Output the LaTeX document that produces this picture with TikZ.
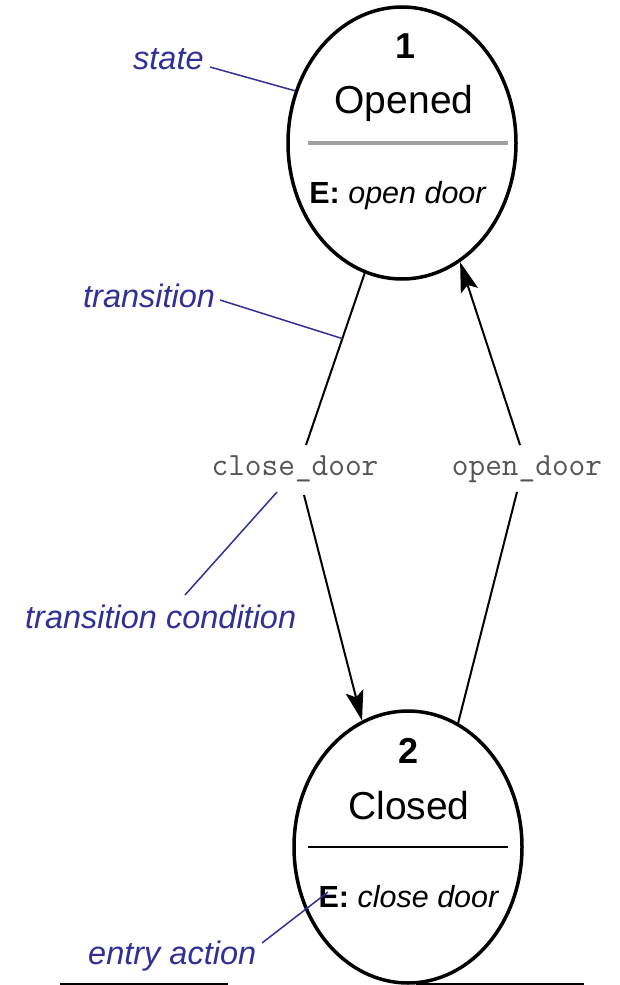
\documentclass[tikz,border=0pt]{standalone}
\usepackage{fontspec}
\setmainfont{Liberation Sans}
\usetikzlibrary{shapes.geometric,arrows.meta}

\definecolor{annot}{RGB}{48,48,150}
\definecolor{condgray}{RGB}{85,85,85}
\definecolor{divgray}{RGB}{160,160,160}

\begin{document}
\begin{tikzpicture}[x=1pt,y=-1pt,
  statenode/.style={ellipse,draw,line width=3.5pt,minimum width=228pt,minimum height=272pt,inner sep=0pt},
  numtext/.style={anchor=base,inner sep=0pt,font=\fontsize{36}{36}\selectfont\bfseries},
  nametext/.style={anchor=base,inner sep=0pt,font=\fontsize{39}{39}\selectfont},
  entrytext/.style={anchor=base,inner sep=0pt,font=\fontsize{30.5}{30.5}\selectfont},
  condtext/.style={anchor=base,inner sep=0pt,text=condgray,font=\fontsize{32.4}{32.4}\ttfamily},
  notetext/.style={anchor=base west,inner sep=0pt,text=annot,font=\fontsize{32.5}{32.5}\selectfont\itshape},
  trans/.style={line width=2pt},
  arr/.style={-{Stealth[length=30pt,width=18pt,inset=6pt]}},
  leader/.style={draw=annot,line width=1.5pt},
]
\useasboundingbox (0,0) rectangle (619,985);
\fill[white] (0,0) rectangle (619,985);

% states
\node[statenode] (s1) at (402,143) {};
\node[statenode] (s2) at (408,847) {};

% state 1: Opened
\node[numtext]   (n1) at (406,58)  {1};
\node[nametext]  (t1) at (404,113) {Opened};
\draw[divgray,line width=4pt] (308,143) -- (508,143);
\node[entrytext] (e1) at (398,203) {\textbf{E:} \textit{open door}};

% state 2: Closed
\node[numtext]   (n2) at (409,763) {2};
\node[nametext]  (t2) at (409,819) {Closed};
\draw[line width=2.5pt] (308,847) -- (508,847);
\node[entrytext] (e2) at (409,907) {\textbf{E:} \textit{close door}};

% transition conditions
\node[condtext] (lclose) at (295,475) {close\_door};
\node[condtext] (lopen)  at (527,475) {open\_door};
\coordinate (cdt) at (306,445);
\coordinate (cdb) at (304,495);
\coordinate (odt) at (520,445);
\coordinate (odb) at (517,492);

% transitions
\draw[trans] (s1.254) -- coordinate[pos=0.38] (tpt) (cdt);
\draw[trans,arr] (cdb) -- (s2.110);
\draw[trans] (s2.68) -- (odb);
\draw[trans,arr] (odt) -- (s1.296);

% annotations
\node[notetext] (nstate) at (133,69)  {state};
\node[notetext] (ntrans) at (83,307)  {transition};
\node[notetext] (ncond)  at (25,628)  {transition condition};
\node[notetext] (nentry) at (88,964)  {entry action};

\coordinate (lsA) at (210,67);
\coordinate (ltA) at (220,300);
\coordinate (lcA) at (277,492);
\coordinate (lcB) at (185,595);
\coordinate (leA) at (262,943);
\coordinate (leB) at (328,892);

\draw[leader] (lsA) -- (s1.154);
\draw[leader] (ltA) -- (tpt);
\draw[leader] (lcA) -- (lcB);
\draw[leader] (leA) -- (leB);

% rule along the lower edge
\fill[black] (60,982.5) rectangle (228,985);
\fill[black] (416,982.5) rectangle (584,985);
\end{tikzpicture}
\end{document}
